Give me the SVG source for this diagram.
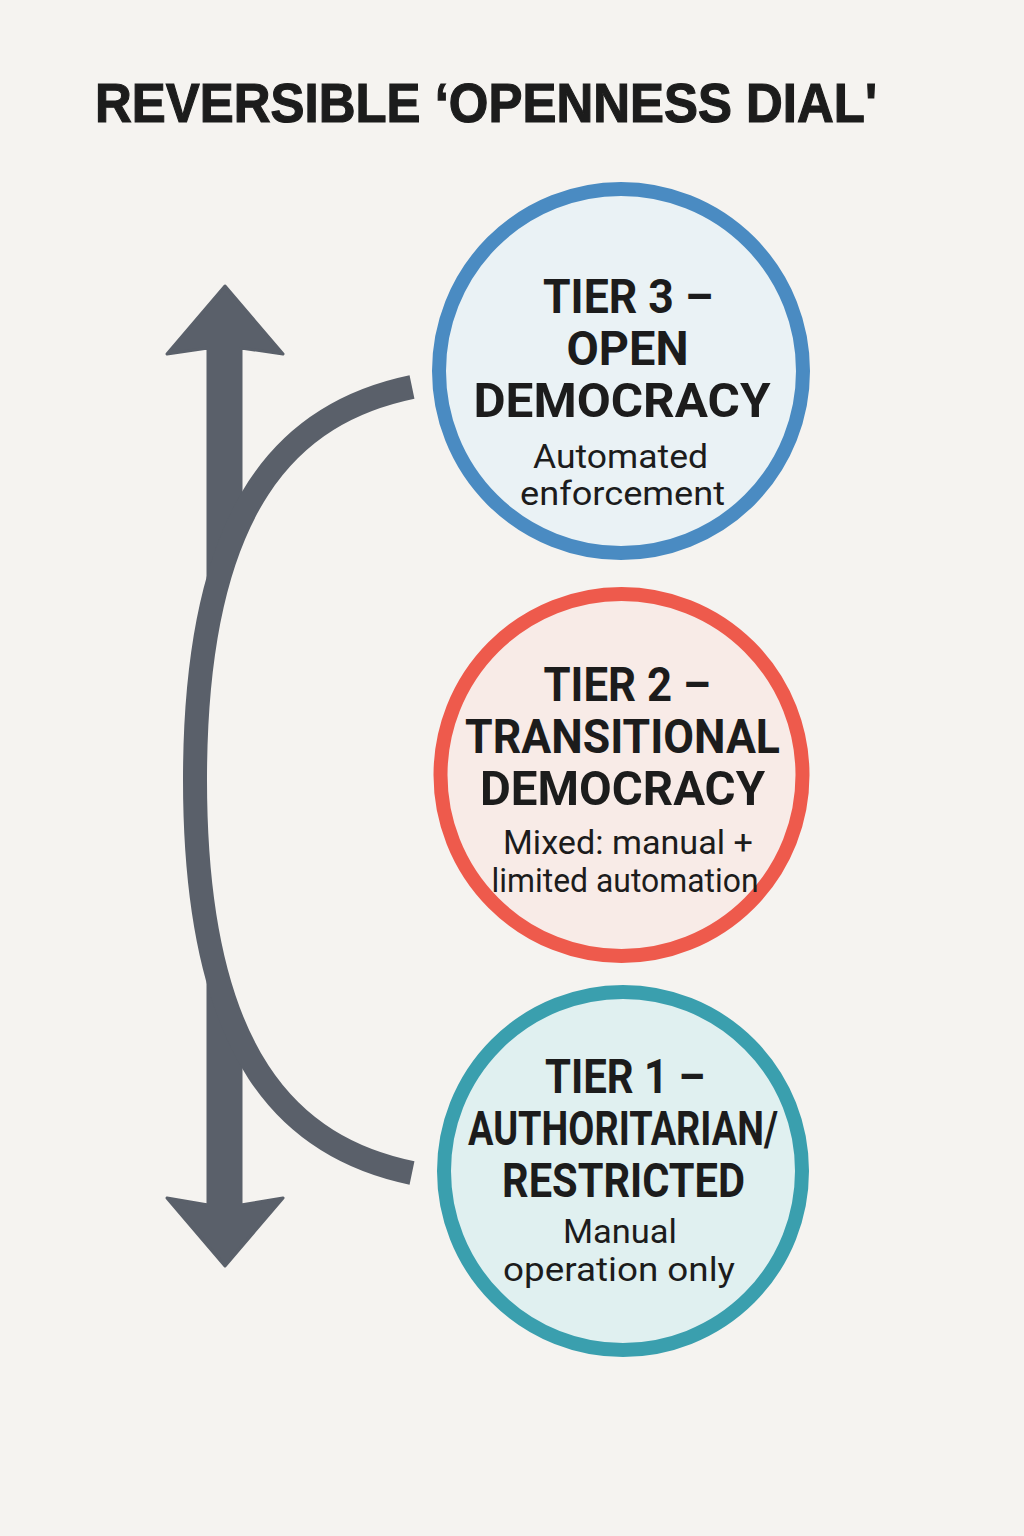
<svg xmlns="http://www.w3.org/2000/svg" width="1024" height="1536" viewBox="0 0 1024 1536">
  <style>
    .title { font-family: "Liberation Sans", Arial, sans-serif; font-weight: bold; font-size: 56px; fill: #1c1c1c; stroke: #1c1c1c; stroke-width: 1.2; }
    .h { font-family: Roboto, "Liberation Sans", sans-serif; font-weight: bold; font-size: 49px; fill: #1c1c1c; text-anchor: middle; }
    .s { font-family: Roboto, "Liberation Sans", sans-serif; font-size: 34px; fill: #1c1c1c; text-anchor: middle; }
    .arrow { fill: #5a606a; stroke: #5a606a; stroke-width: 3; stroke-linejoin: round; }
    .arc { fill: none; stroke: #5a606a; stroke-width: 24; stroke-linecap: butt; }
    .ring { stroke-width: 14; }
  </style>
  <rect x="0" y="0" width="1024" height="1536" fill="#f5f3f0"/>
  <text class="title" x="95" y="122" textLength="782" lengthAdjust="spacingAndGlyphs">REVERSIBLE ‘OPENNESS DIAL'</text>

  <g id="connectors">
    <path class="arrow" d="M225,286 L283,354 L241,348 L241,538 L208,578 L208,348 L167,354 Z"/>
    <path class="arrow" d="M225,1266 L283,1198 L241,1205 L241,1022 L208,982 L208,1205 L167,1198 Z"/>
    <path class="arc" d="M412,387 C292,412 195,500 195,780 C195,1060 292,1148 412,1173"/>
  </g>

  <g id="tier3">
    <circle class="ring" cx="621" cy="371" r="182" fill="#eaf2f5" stroke="#4a8bc2"/>
    <text class="h" x="628" y="313" textLength="170" lengthAdjust="spacingAndGlyphs">TIER 3 –</text>
    <text class="h" x="627.5" y="365" textLength="122" lengthAdjust="spacingAndGlyphs">OPEN</text>
    <text class="h" x="622" y="417" textLength="297" lengthAdjust="spacingAndGlyphs">DEMOCRACY</text>
    <text class="s" x="620.5" y="468" textLength="175" lengthAdjust="spacingAndGlyphs">Automated</text>
    <text class="s" x="622.5" y="505" textLength="205" lengthAdjust="spacingAndGlyphs">enforcement</text>
  </g>

  <g id="tier2">
    <circle class="ring" cx="621.5" cy="775" r="181" fill="#f8ebe7" stroke="#ee5a4c"/>
    <text class="h" x="627" y="701" textLength="167" lengthAdjust="spacingAndGlyphs">TIER 2 –</text>
    <text class="h" x="622.5" y="753" textLength="315" lengthAdjust="spacingAndGlyphs">TRANSITIONAL</text>
    <text class="h" x="622.5" y="805" textLength="285" lengthAdjust="spacingAndGlyphs">DEMOCRACY</text>
    <text class="s" x="628" y="854" textLength="250" lengthAdjust="spacingAndGlyphs">Mixed: manual +</text>
    <text class="s" x="625" y="892" textLength="267" lengthAdjust="spacingAndGlyphs">limited automation</text>
  </g>

  <g id="tier1">
    <circle class="ring" cx="623" cy="1171" r="179" fill="#e0f0f0" stroke="#3a9fae"/>
    <text class="h" x="625" y="1093" textLength="160" lengthAdjust="spacingAndGlyphs">TIER 1 –</text>
    <text class="h" x="623" y="1145" textLength="310" lengthAdjust="spacingAndGlyphs">AUTHORITARIAN/</text>
    <text class="h" x="623.5" y="1197" textLength="243" lengthAdjust="spacingAndGlyphs">RESTRICTED</text>
    <text class="s" x="620" y="1243" textLength="114" lengthAdjust="spacingAndGlyphs">Manual</text>
    <text class="s" x="619" y="1281" textLength="232" lengthAdjust="spacingAndGlyphs">operation only</text>
  </g>
</svg>
